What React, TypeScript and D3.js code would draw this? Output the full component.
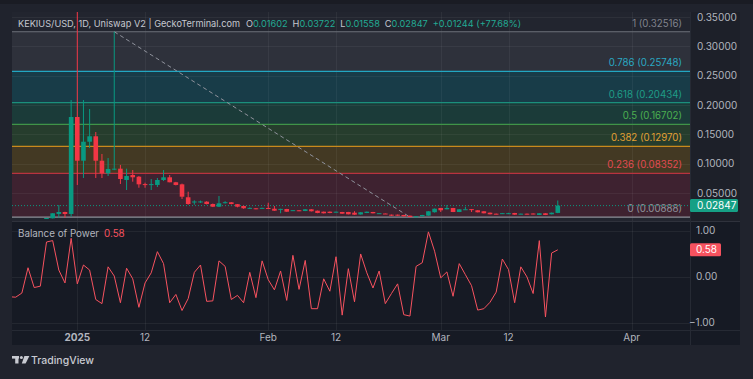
import React from "react";
import * as d3 from "d3";

// ---------- DATA ----------
const candleStart = "2024-12-27";
const opens = [0.006, 0.0068, 0.0142, 0.0176, 0.0142, 0.1797, 0.1051, 0.1375, 0.1468, 0.1051, 0.0836, 0.091, 0.0915, 0.0722, 0.0807, 0.0778, 0.0652, 0.0645, 0.0637, 0.0722, 0.0768, 0.0683, 0.0648, 0.0427, 0.0345, 0.0348, 0.0352, 0.0312, 0.0266, 0.0336, 0.0341, 0.0309, 0.0278, 0.0242, 0.0239, 0.0242, 0.0244, 0.0232, 0.0225, 0.0227, 0.0203, 0.0205, 0.0193, 0.0222, 0.0198, 0.0181, 0.0181, 0.0171, 0.0176, 0.0176, 0.0164, 0.0134, 0.0159, 0.0176, 0.0152, 0.015, 0.013, 0.013, 0.0125, 0.0113, 0.0092, 0.0102, 0.0113, 0.0172, 0.0244, 0.0222, 0.0244, 0.0176, 0.022, 0.0225, 0.0205, 0.0188, 0.0164, 0.0147, 0.0152, 0.0152, 0.0159, 0.014, 0.0147, 0.015, 0.0125, 0.0154, 0.0137, 0.01602];
const highs = [0.0075, 0.0156, 0.0295, 0.018, 0.2087, 0.42, 0.2087, 0.1933, 0.1541, 0.1166, 0.1097, 0.32516, 0.0979, 0.0915, 0.0892, 0.079, 0.0676, 0.0739, 0.0756, 0.0892, 0.0807, 0.069, 0.066, 0.0522, 0.0375, 0.037, 0.036, 0.032, 0.0449, 0.036, 0.0345, 0.0312, 0.0285, 0.0255, 0.0242, 0.025, 0.0334, 0.0278, 0.0232, 0.023, 0.021, 0.0208, 0.0225, 0.0225, 0.02, 0.0183, 0.0185, 0.0183, 0.0178, 0.0178, 0.019, 0.0174, 0.0183, 0.0178, 0.0158, 0.0152, 0.0132, 0.0132, 0.0127, 0.0115, 0.0104, 0.0127, 0.019, 0.0236, 0.0246, 0.0295, 0.0246, 0.0225, 0.0266, 0.0227, 0.0207, 0.019, 0.0166, 0.0149, 0.016, 0.0162, 0.0161, 0.0149, 0.0149, 0.0152, 0.0156, 0.0156, 0.0166, 0.03722];
const lows = [0.0058, 0.0066, 0.0078, 0.0078, 0.0095, 0.0637, 0.0756, 0.1268, 0.0756, 0.0756, 0.079, 0.089, 0.0654, 0.0551, 0.0693, 0.059, 0.059, 0.0551, 0.0602, 0.0705, 0.0683, 0.063, 0.0398, 0.03, 0.03, 0.033, 0.0305, 0.026, 0.026, 0.032, 0.0305, 0.0255, 0.023, 0.0235, 0.0222, 0.0238, 0.0225, 0.0195, 0.0154, 0.0178, 0.02, 0.019, 0.019, 0.0185, 0.0155, 0.015, 0.0155, 0.0168, 0.0145, 0.0135, 0.0128, 0.013, 0.0157, 0.0152, 0.015, 0.0143, 0.0108, 0.011, 0.01, 0.00888, 0.009, 0.01, 0.0112, 0.0165, 0.0176, 0.022, 0.0174, 0.0174, 0.0218, 0.0176, 0.0169, 0.0152, 0.0135, 0.0135, 0.0148, 0.014, 0.0128, 0.0138, 0.0135, 0.0135, 0.0123, 0.0123, 0.0135, 0.01558];
const closes = [0.0073, 0.0154, 0.0176, 0.0142, 0.1797, 0.1051, 0.1375, 0.1468, 0.1051, 0.0836, 0.091, 0.0915, 0.0739, 0.079, 0.0768, 0.0648, 0.0645, 0.0652, 0.0722, 0.0768, 0.0683, 0.0637, 0.0437, 0.0312, 0.0355, 0.0356, 0.0312, 0.0266, 0.0324, 0.0343, 0.0312, 0.0266, 0.0239, 0.0246, 0.0227, 0.0246, 0.0227, 0.0198, 0.0229, 0.0181, 0.0207, 0.0193, 0.0222, 0.0188, 0.0159, 0.0154, 0.0159, 0.0181, 0.0147, 0.0137, 0.013, 0.0171, 0.0181, 0.0154, 0.0156, 0.0145, 0.012, 0.0113, 0.0102, 0.009, 0.0102, 0.0125, 0.0188, 0.0232, 0.0205, 0.0244, 0.0176, 0.0222, 0.0223, 0.022, 0.0171, 0.0154, 0.0137, 0.0137, 0.0156, 0.0156, 0.013, 0.0147, 0.0137, 0.0137, 0.0154, 0.0125, 0.0164, 0.02847];

const bopStart = "2024-12-21";
const bopValues = [-0.44, -0.45, -0.36, 0.19, -0.24, -0.21, 0.75, 0.78, 0.14, -0.14, 0.83, -0.16, 0.25, 0.14, -0.5, -0.59, 0.21, 0.01, -0.57, 0.18, -0.05, -0.67, -0.14, 0.08, 0.54, 0.28, -0.57, -0.39, -0.74, -0.48, 0.09, 0.25, -0.54, -0.53, 0.34, 0.22, -0.5, -0.41, -0.57, 0.09, -0.46, 0.34, -0.07, -0.29, 0.12, -0.52, 0.46, -0.28, 0.35, -0.7, -0.7, -0.05, -0.32, 0.43, -0.84, 0.17, -0.55, 0.49, 0.08, -0.25, 0.12, -0.59, -0.37, -0.16, -0.83, -0.86, 0.22, 0.3, 0.97, 0.55, -0.03, 0.1, -0.43, 0.28, 0.04, -0.2, -0.73, -0.7, -0.56, -0.34, 0.38, 0.15, -0.57, 0.21, -0.01, -0.37, 0.78, -0.88, 0.51, 0.58];

const priceTicks = [0.05, 0.1, 0.15, 0.2, 0.25, 0.3, 0.35];
const fibRatios = ["1", "0.786", "0.618", "0.5", "0.382", "0.236", "0"];
const fibPrices = [0.32516, 0.25748, 0.20434, 0.16702, 0.1297, 0.08352, 0.00888];
const fibLineColors = ["#6d707a", "#22a7c2", "#1b8f7c", "#3f9448", "#c98a1c", "#b9333f", "#8c8f98"];
const fibFillColors = ["#2e313b", "#183c48", "#1b3b39", "#263d2d", "#433923", "#3e2230"];
const fibTextColors = ["#80838d", "#2aa8c2", "#1f9c87", "#4caf50", "#e3a032", "#e24a52", "#8f929b"];
const fibFrom = { date: "2025-01-07", price: 0.32516 };
const fibTo = { date: "2025-02-24", price: 0.00888 };

const timeTickDates = ["2025-01-01", "2025-01-12", "2025-02-01", "2025-02-12", "2025-03-01", "2025-03-12", "2025-04-01"];
const timeTickLabels = ["2025", "12", "Feb", "12", "Mar", "12", "Apr"];
const bopTicks = [1, 0, -1];
const bopTickLabels = ["1.00", "0.00", "\u22121.00"];

const headerTitle = "KEKIUS/USD, 1D, Uniswap V2 | GeckoTerminal.com";
const ohlcLabels = ["O", "H", "L", "C"];
const ohlcValues = ["0.01602", "0.03722", "0.01558", "0.02847"];
const changeText = "+0.01244 (+77.68%)";
const lastPriceLabel = "0.02847";
const bopLastLabel = "0.58";

// ---------- LAYOUT ----------
const W = 753, H = 379;
const paneL = 12, paneR = 690, axisR = 740;
const mainT = 12, mainB = 221, bopT = 222, bopB = 330, timeB = 345;
const FONT = "Inter, 'Noto Sans', sans-serif";
const GREEN = "#089981", RED = "#f23645";

const parse = d3.utcParse("%Y-%m-%d");
const dayMs = 86400000;

export default function App() {
  const x = d3.scaleUtc().domain([parse("2025-01-01")!, parse("2025-04-01")!]).range([77.3, 631.7]);
  const y = d3.scaleLinear().domain([0, 0.35]).range([222.3, 17.2]);
  const yb = d3.scaleLinear().domain([-1, 1]).range([322.5, 230.5]);

  const c0 = parse(candleStart)!.getTime();
  const candles = opens.map((o, i) => ({
    t: new Date(c0 + i * dayMs), o, h: highs[i], l: lows[i], c: closes[i],
  }));
  const b0 = parse(bopStart)!.getTime();
  const bop = bopValues.map((v, i) => ({ t: new Date(b0 + i * dayMs), v }));
  const bopLine = d3.line<{ t: Date; v: number }>().x(d => x(d.t)).y(d => yb(d.v));

  const bw = 4.6;
  const lastY = y(closes[closes.length - 1]);

  return (
    <svg width={W} height={H} style={{ display: "block", position: "absolute", left: 0, top: 0 }}>
      <defs>
        <clipPath id="mainClip"><rect x={paneL} y={mainT} width={paneR - paneL} height={mainB - mainT} /></clipPath>
        <clipPath id="bopClip"><rect x={paneL} y={bopT} width={paneR - paneL} height={bopB - bopT} /></clipPath>
      </defs>
      <rect x={0} y={0} width={W} height={H} fill="#20232d" />
      <rect x={0} y={0} width={W} height={4} fill="#1a1c24" />
      {/* panes */}
      <rect x={paneL} y={mainT} width={paneR - paneL} height={mainB - mainT} fill="#22252f" />
      <rect x={paneR} y={mainT} width={axisR - paneR} height={mainB - mainT} fill="#1d2029" />
      <rect x={paneL} y={bopT} width={axisR - paneL} height={timeB - bopT} fill="#161a24" />
      <line x1={paneL} x2={axisR} y1={mainB + 0.5} y2={mainB + 0.5} stroke="#2f323c" />
      <line x1={paneL} x2={axisR} y1={bopB + 0.5} y2={bopB + 0.5} stroke="#262a34" />
      <line x1={paneR + 0.5} x2={paneR + 0.5} y1={mainT} y2={timeB} stroke="#262a34" />

      {/* fib fills */}
      {fibFillColors.map((col, i) => (
        <rect key={"ff" + i} x={paneL} width={paneR - paneL}
          y={y(fibPrices[i])} height={y(fibPrices[i + 1]) - y(fibPrices[i])} fill={col} />
      ))}
      {/* grid */}
      <g clipPath="url(#mainClip)">
        {priceTicks.map(p => (
          <line key={"pg" + p} x1={paneL} x2={paneR} y1={Math.round(y(p)) + 0.5} y2={Math.round(y(p)) + 0.5} stroke="#ffffff" strokeOpacity={0.05} />
        ))}
      </g>
      {timeTickDates.map(d => {
        const xx = Math.round(x(parse(d)!)) + 0.5;
        return (
          <g key={"vg" + d}>
            <line x1={xx} x2={xx} y1={mainT} y2={mainB} stroke="#ffffff" strokeOpacity={0.05} />
            <line x1={xx} x2={xx} y1={bopT} y2={bopB} stroke="#ffffff" strokeOpacity={0.06} />
          </g>
        );
      })}
      {bopTicks.map(v => (
        <line key={"bg" + v} x1={paneL} x2={paneR} y1={Math.round(yb(v)) + 0.5} y2={Math.round(yb(v)) + 0.5} stroke="#ffffff" strokeOpacity={0.06} />
      ))}

      {/* fib lines & labels */}
      {fibPrices.map((p, i) => (
        <g key={"fl" + i}>
          <line x1={paneL} x2={paneR} y1={y(p)} y2={y(p)} stroke={fibLineColors[i]} strokeWidth={1.2} />
          <text x={682} y={y(p) - 5} textAnchor="end" fontFamily={FONT} fontSize={9.7} fill={fibTextColors[i]}>
            {`${fibRatios[i]} (${p.toFixed(5)})`}
          </text>
        </g>
      ))}
      {/* fib trend line */}
      <line x1={x(parse(fibFrom.date)!)} y1={y(fibFrom.price)} x2={x(parse(fibTo.date)!)} y2={y(fibTo.price)}
        stroke="#8f929c" strokeWidth={1} strokeDasharray="4 3" />

      {/* last price dotted line */}
      <line x1={paneL} x2={paneR} y1={lastY} y2={lastY} stroke={GREEN} strokeWidth={1} strokeDasharray="1 2" />

      {/* candles */}
      <g clipPath="url(#mainClip)">
        {candles.map((d, i) => {
          const cx = x(d.t);
          const col = d.c >= d.o ? GREEN : RED;
          const top = y(Math.max(d.o, d.c));
          const bot = y(Math.min(d.o, d.c));
          return (
            <g key={"c" + i}>
              <line x1={cx} x2={cx} y1={y(d.h)} y2={y(d.l)} stroke={col} strokeWidth={1} />
              <rect x={cx - bw / 2} y={top} width={bw} height={Math.max(1, bot - top)} fill={col} />
            </g>
          );
        })}
      </g>

      {/* BOP line */}
      <path d={bopLine(bop)!} fill="none" stroke="#f7525f" strokeWidth={1} clipPath="url(#bopClip)" />

      {/* header */}
      <text x={18} y={27} fontFamily={FONT} fontSize={9.2} fill="#c5c8d0">
        <tspan>{headerTitle}</tspan>
        {ohlcLabels.map((l, i) => (
          <React.Fragment key={l}>
            <tspan dx={i === 0 ? 6 : 5} fill="#c5c8d0">{l}</tspan>
            <tspan fill="#22ab94">{ohlcValues[i]}</tspan>
          </React.Fragment>
        ))}
        <tspan dx={5} fill="#22ab94">{changeText}</tspan>
      </text>

      {/* price axis labels */}
      {priceTicks.map(p => (
        <text key={"pt" + p} x={697} y={y(p) + 3.5} fontFamily={FONT} fontSize={10} fill="#b2b5be">{p.toFixed(5)}</text>
      ))}
      <rect x={690} y={lastY - 6.5} width={48} height={13} rx={1.5} fill="#16a085" />
      <text x={697} y={lastY + 3.5} fontFamily={FONT} fontSize={10} fill="#ffffff">{lastPriceLabel}</text>

      {/* BOP labels */}
      <text x={18} y={237} fontFamily={FONT} fontSize={9.8} fill="#b2b5be">
        Balance of Power<tspan dx={5} fill="#f7525f">{bopLastLabel}</tspan>
      </text>
      {bopTicks.map((v, i) => (
        <text key={"bt" + v} x={v < 0 ? 689 : 696} y={yb(v) + 3.5} fontFamily={FONT} fontSize={10} fill="#b2b5be">{bopTickLabels[i]}</text>
      ))}
      <rect x={690} y={yb(0.58) - 6.5} width={31} height={13} rx={1.5} fill="#f7525f" />
      <text x={696} y={yb(0.58) + 3.5} fontFamily={FONT} fontSize={10} fill="#ffffff">{bopLastLabel}</text>

      {/* time axis */}
      {timeTickDates.map((d, i) => (
        <text key={"tt" + d} x={x(parse(d)!)} y={341} textAnchor="middle" fontFamily={FONT} fontSize={10}
          fontWeight={timeTickLabels[i] === "2025" ? 700 : 400} fill="#b2b5be">{timeTickLabels[i]}</text>
      ))}

      {/* TradingView logo */}
      <g fill="#c8cad1">
        <rect x={12} y={356} width={7} height={2.6} />
        <rect x={15.2} y={356} width={3.3} height={7.5} />
        <circle cx={21.4} cy={357.4} r={1.5} />
        <polygon points="24.4,356 29.4,356 25.6,363.5 21.8,363.5" />
      </g>
      <text x={31} y={363.5} fontFamily={FONT} fontSize={10.5} fontWeight={500} fill="#c8cad1">TradingView</text>
    </svg>
  );
}
